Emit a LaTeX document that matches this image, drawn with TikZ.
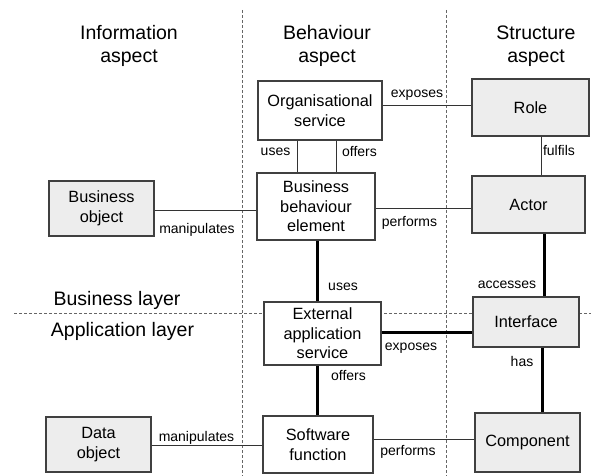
\documentclass[tikz,border=0pt]{standalone}
\usepackage{fontspec}
\setmainfont{Liberation Sans}
\usepackage{tikz}

\begin{document}
\begin{tikzpicture}[
			x=1pt, y=-1pt,
			box/.style={draw=black!75, line width=1.1pt, align=center, inner sep=2pt, font=\fontsize{16.3}{19.5}\selectfont},
			graybox/.style={box, fill=black!7},
			whitebox/.style={box, fill=white},
			heading/.style={align=center, inner sep=0pt, font=\fontsize{19.5}{22.5}\selectfont},
			lbl/.style={anchor=base, inner sep=0pt, font=\fontsize{14}{16}\selectfont},
			thinrel/.style={draw=black!80, line width=1pt},
			thickrel/.style={draw=black, line width=3pt},
			divider/.style={draw=black!60, line width=0.8pt, dash pattern=on 3pt off 2pt}
			]
			
			\useasboundingbox (0,0) rectangle (591,476);
			
			% columns and layers
			\draw[divider] (242,10) -- (242,476);
			\draw[divider] (446,10) -- (446,476);
			\draw[divider] (14,313) -- (591,313);
			
			\node[heading] (info) at (129,46) {Information\\aspect};
			\node[heading] (behav) at (327,46) {Behaviour\\aspect};
			\node[heading] (struct) at (536,46) {Structure\\aspect};
			\node[heading] (buslayer) at (117,300) {Business layer};
			\node[heading] (applayer) at (122.5,331) {Application layer};
			
			% business layer
			\node[whitebox, minimum width=124pt, minimum height=59pt] (org) at (320,110.5) {Organisational\\service};
			\node[graybox, minimum width=117pt, minimum height=57pt] (role) at (530.5,107.5) {Role};
			\node[whitebox, minimum width=118pt, minimum height=67pt] (bbe) at (316,206.5) {Business\\behaviour\\element};
			\node[graybox, minimum width=105pt, minimum height=55pt] (bobj) at (101.5,208.5) {Business\\object};
			\node[graybox, minimum width=113pt, minimum height=57pt] (actor) at (528.5,204.5) {Actor};
			
			% application layer
			\node[whitebox, minimum width=117pt, minimum height=63pt] (eas) at (322.5,333.5) {External\\application\\service};
			\node[graybox, minimum width=106pt, minimum height=50pt] (iface) at (526,322) {Interface};
			\node[whitebox, minimum width=110pt, minimum height=57pt] (swf) at (318,444.5) {Software\\function};
			\node[graybox, minimum width=105pt, minimum height=55pt] (dobj) at (98.5,444.5) {Data\\object};
			\node[graybox, minimum width=105pt, minimum height=59pt] (comp) at (527.5,442.5) {Component};
			
			% relations
			\draw[thinrel] (org.east |- 0,106) -- (role.west |- 0,106);
			\draw[thinrel] (297,0 |- org.south) -- (297,0 |- bbe.north);
			\draw[thinrel] (336,0 |- org.south) -- (336,0 |- bbe.north);
			\draw[thinrel] (541,0 |- role.south) -- (541,0 |- actor.north);
			\draw[thinrel] (bobj.east |- 0,210) -- (bbe.west |- 0,210);
			\draw[thinrel] (bbe.east |- 0,208) -- (actor.west |- 0,208);
			\draw[thickrel] (317,0 |- bbe.south) -- (317,0 |- eas.north);
			\draw[thickrel] (544,0 |- actor.south) -- (544,0 |- iface.north);
			\draw[thickrel] (eas.east |- 0,332) -- (iface.west |- 0,332);
			\draw[thickrel] (317,0 |- eas.south) -- (317,0 |- swf.north);
			\draw[thickrel] (542,0 |- iface.south) -- (542,0 |- comp.north);
			\draw[thinrel] (dobj.east |- 0,445) -- (swf.west |- 0,445);
			\draw[thinrel] (swf.east |- 0,439) -- (comp.west |- 0,439);
			
			\node[lbl] (l-exp1) at (417,98) {exposes};
			\node[lbl] (l-uses1) at (275.5,155) {uses};
			\node[lbl] (l-off1) at (359.5,156.5) {offers};
			\node[lbl] (l-ful) at (559,155) {fulfils};
			\node[lbl] (l-man1) at (197,233) {manipulates};
			\node[lbl] (l-perf1) at (409.5,226.5) {performs};
			\node[lbl] (l-uses2) at (343,290.5) {uses};
			\node[lbl] (l-acc) at (507,288) {accesses};
			\node[lbl] (l-exp2) at (411,350) {exposes};
			\node[lbl] (l-off2) at (348.5,380) {offers};
			\node[lbl] (l-has) at (522,366.5) {has};
			\node[lbl] (l-perf2) at (408,455) {performs};
			\node[lbl] (l-man2) at (196.5,441.5) {manipulates};
		\end{tikzpicture}
\end{document}
